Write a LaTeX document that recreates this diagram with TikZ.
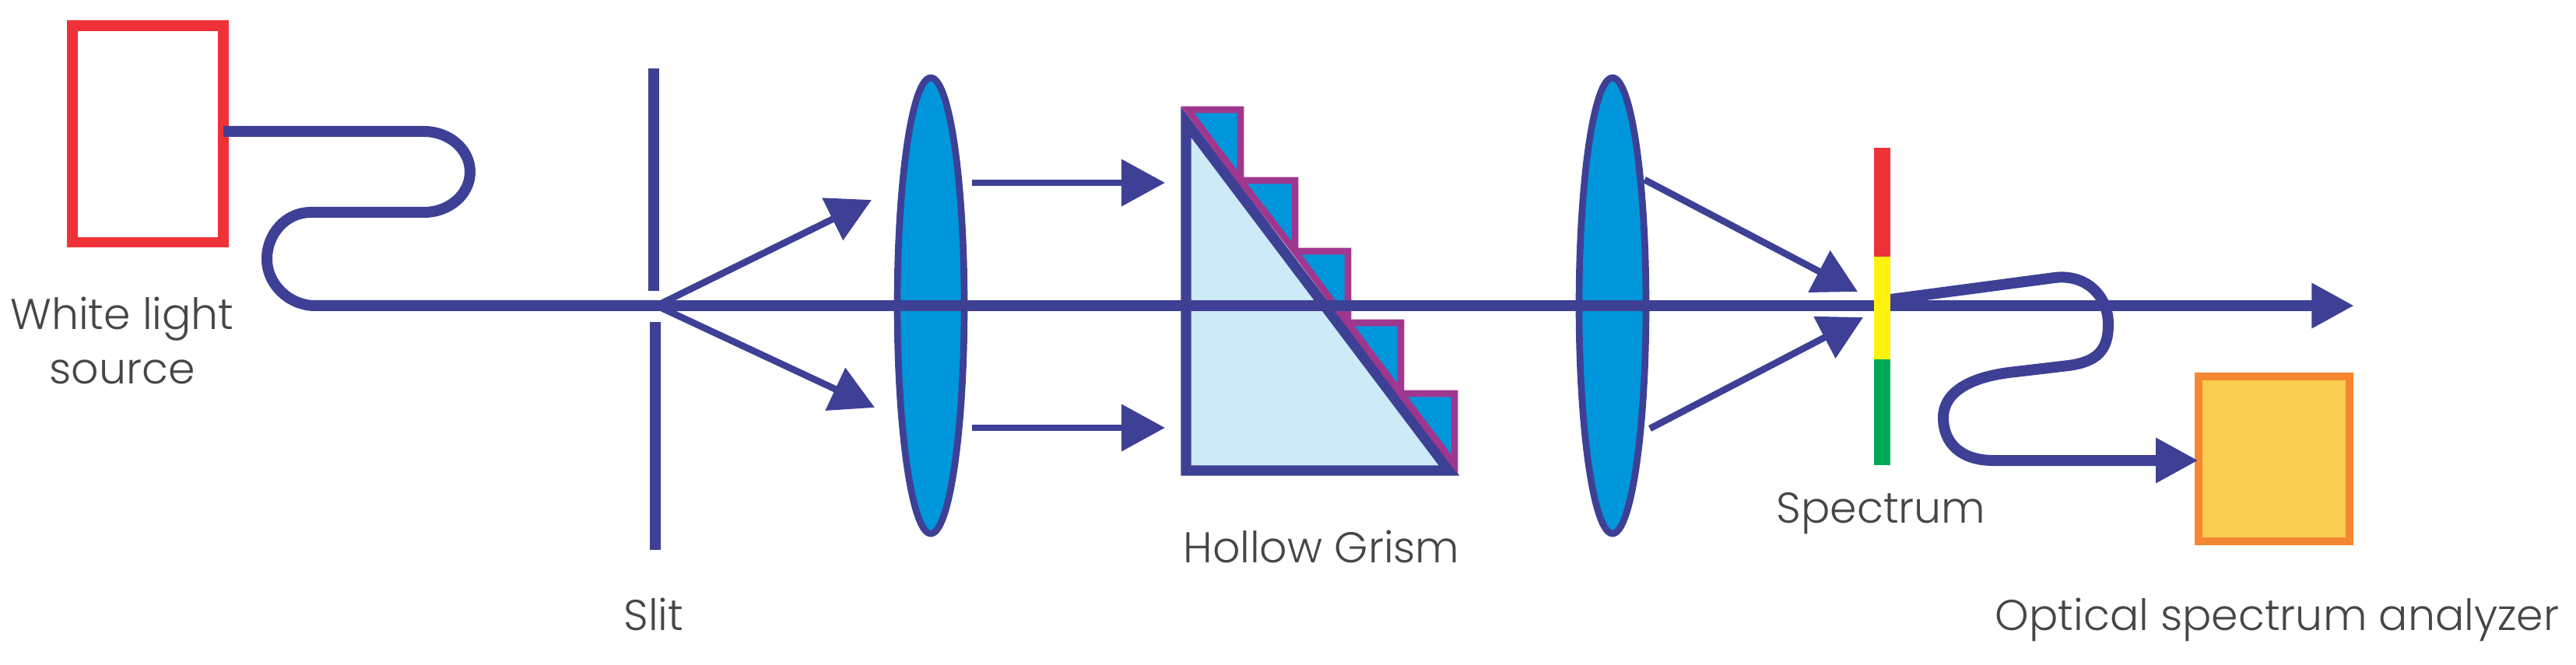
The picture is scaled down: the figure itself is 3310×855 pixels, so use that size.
\documentclass[tikz,border=0pt]{standalone}
\usepackage{fontspec}
\setmainfont{Poppins Light}
\usetikzlibrary{arrows.meta}
\definecolor{navy}{RGB}{62,64,149}
\definecolor{lensblue}{RGB}{0,150,219}
\definecolor{palecyan}{RGB}{204,234,247}
\definecolor{stepmag}{RGB}{160,55,143}
\definecolor{srcred}{RGB}{238,50,56}
\definecolor{osaorange}{RGB}{245,135,50}
\definecolor{osafill}{RGB}{248,205,80}
\definecolor{specgreen}{RGB}{0,168,89}
\definecolor{specyellow}{RGB}{255,242,15}
\definecolor{textgrey}{RGB}{70,70,72}
\tikzset{
	fiber/.style={draw=navy,line width=10.5pt},
	ray/.style={draw=navy,line width=6.5pt,-{Triangle[length=42pt,width=44pt]}},
	lens/.style={draw=navy,line width=6.5pt,fill=lensblue},
	label/.style={inner sep=0pt,align=center,text=textgrey,font=\fontsize{41.5}{52}\selectfont},
}
\begin{document}
\begin{tikzpicture}[x=0.75pt,y=0.75pt,yscale=-1,xscale=1]
	\useasboundingbox (0,0) rectangle (3310,855);

	%Source and analyzer
	\node (src) [draw=srcred,line width=10pt,outer sep=0pt,minimum width=145.5pt,minimum height=209pt,inner sep=0pt] at (190,172.5) {};
	\node (osa) [draw=osaorange,line width=7.5pt,outer sep=0pt,fill=osafill,minimum width=146pt,minimum height=159pt,inner sep=0pt] at (2922,590) {};

	%Slit
	\coordinate (slitA) at (839.5,88);
	\coordinate (slitB) at (839.5,374);
	\coordinate (slitC) at (841.5,414);
	\coordinate (slitD) at (841.5,707);
	\draw [navy,line width=10.5pt] (slitA) -- (slitB);
	\draw [navy,line width=10.5pt] (slitC) -- (slitD);

	%Lenses
	\foreach \lensname/\cx in {lensA/1196,lensB/2072} {
		\draw [lens] (\cx,393) ellipse [x radius=43,y radius=293];
		\coordinate (\lensname) at (\cx,393);
	}

	%Grism
	\coordinate (gTop) at (1524,157);
	\coordinate (gCorner) at (1524,605);
	\coordinate (gRight) at (1862,605);
	\draw [navy,fill=palecyan,line width=10pt,miter limit=10] (gTop) -- (gCorner) -- (gRight) -- cycle;
	\foreach \xa/\ya/\xb/\yb in {1526/141/1594/232,1594/232/1664/323,1664/323/1732/415,1732/415/1800/506,1800/506/1869/597} {
		\draw [stepmag,fill=lensblue,line width=6.5pt,line join=miter] (\xa,\ya) -- (\xb,\ya) -- (\xb,\yb) -- cycle;
	}

	%Main axis
	\coordinate (slitC0) at (845,393);
	\coordinate (axisEnd) at (3025,393);
	\draw [fiber,-{Triangle[length=41pt,width=41pt]}] (slitC0) -- (axisEnd);

	%Rays
	\coordinate (rayA) at (848,391);
	\coordinate (rayB) at (848,395);
	\draw [ray] (rayA) -- (1120,257);
	\draw [ray] (rayB) -- (1124,524);
	\draw [ray] (1249,235) -- (1497,235);
	\draw [ray] (1249,550) -- (1497,550);
	\draw [ray] (2113,231) -- (2387,375);
	\draw [ray] (2120,551) -- (2394,408);

	%Fibers
	\draw [fiber] (src.east |- 0,169) -- (545,169) .. controls (577,169) and (604,192) .. (604,221)
		.. controls (604,250) and (577,273) .. (545,273) -- (399,273)
		.. controls (368,273) and (343,300) .. (343,333) .. controls (343,366) and (372,393) .. (405,393) -- (slitC0);
	\draw [fiber,-{Triangle[length=41pt,width=41pt]}] (2429,385) -- (2640,357)
		.. controls (2680,352) and (2709,380) .. (2709,417) .. controls (2709,450) and (2695,465) .. (2658,470)
		-- (2590,478) .. controls (2530,484) and (2497,505) .. (2497,537)
		.. controls (2497,570) and (2520,592) .. (2561,592) -- (osa.west |- 0,592);

	%Spectrum
	\fill [srcred] (2408,190) rectangle (2429,330);
	\fill [specyellow] (2408,330) rectangle (2429,462);
	\fill [specgreen] (2408,462) rectangle (2429,598);

	%Labels
	\node (lblsrc) [label] at (157,438) {White light\\source};
	\node (lblslit) [label] at (840,790) {Slit};
	\node (lblgrism) [label] at (1698,703) {Hollow Grism};
	\node (lblspec) [label] at (2417,660) {Spectrum};
	\node (lblosa) [label] at (2926,797) {Optical spectrum analyzer};
\end{tikzpicture}
\end{document}
